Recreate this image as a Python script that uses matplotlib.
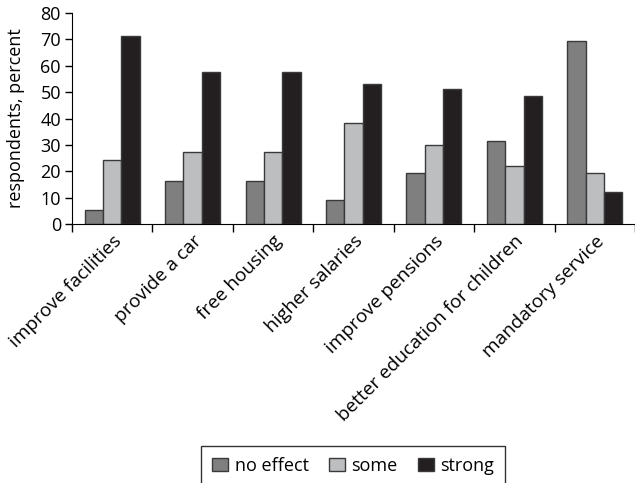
import numpy as np
import matplotlib.pyplot as plt

plt.rcParams['font.family'] = ['Open Sans', 'DejaVu Sans']

# data
categories = ['improve facilities', 'provide a car', 'free housing', 'higher salaries',
              'improve pensions', 'better education for children', 'mandatory service']
no_effect = [5.3, 16.4, 16.4, 9.2, 19.2, 31.4, 69.4]
some = [24.1, 27.2, 27.2, 38.3, 29.9, 22.1, 19.3]
strong = [71.1, 57.7, 57.7, 53.1, 51.3, 48.4, 12.2]

series = [('no effect', no_effect, '#7f7f7f'),
          ('some', some, '#bdbec0'),
          ('strong', strong, '#231f20')]

fig = plt.figure(figsize=(6.35, 4.83), dpi=100)
ax = fig.add_axes([72 / 635, 1 - 224 / 483, 1 - 72 / 635, (224 - 13) / 483])

x = np.arange(len(categories))
w = 0.228
for i, (name, vals, col) in enumerate(series):
    ax.bar(x + (i - 1) * w, vals, w, color=col, edgecolor='#3a3a3a', linewidth=1.0, label=name)

ax.set_xlim(-0.5, 6.41)
ax.set_ylim(0, 80)
ax.set_yticks(range(0, 81, 10))
ax.tick_params(axis='y', labelsize=13, length=5, width=1, direction='out', pad=3)

ax.set_xticks(x)
ax.set_xticks(np.arange(-0.5, 7, 1), minor=True)
ax.tick_params(axis='x', which='major', length=0, pad=6)
ax.tick_params(axis='x', which='minor', length=6, width=1, direction='out')
ax.set_xticklabels(categories, rotation=45, ha='right', va='top',
                   rotation_mode='anchor', fontsize=13.7)

ax.spines['top'].set_visible(False)
ax.spines['right'].set_visible(False)
ax.set_ylabel('respondents, percent', fontsize=13, labelpad=11)

leg = fig.legend(loc='lower center', bbox_to_anchor=(0.556, -0.024), ncol=3, fontsize=13,
                 frameon=True, fancybox=False, edgecolor='black', handlelength=0.92,
                 handleheight=0.8, handletextpad=0.35, columnspacing=1.1,
                 borderpad=0.6)
leg.get_frame().set_linewidth(1.0)

fig.savefig('out.png', dpi=100)
